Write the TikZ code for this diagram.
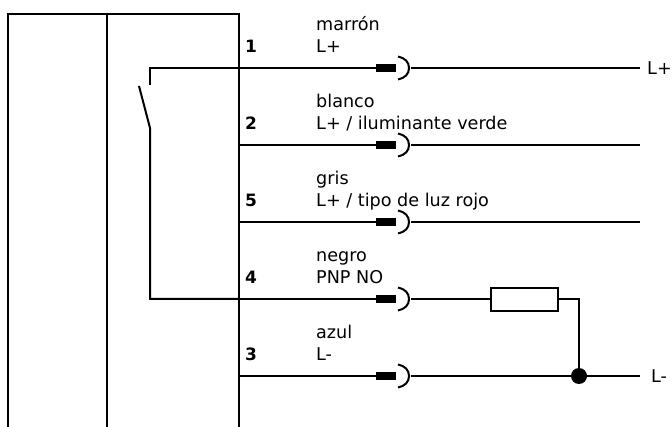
\documentclass[tikz,border=0pt]{standalone}
\usepackage{fontspec}
\setmainfont{DejaVu Sans}
\tikzset{
  wire/.style = {draw, line width=2pt},
  frame/.style = {draw, line width=2.3pt},
  {plug/.style} = {rectangle, fill=black, inner sep=0, minimum width=20pt, minimum height=8pt},
  {pin label/.style} = {anchor=west, inner sep=0, font=\fontsize{17}{19}\selectfont\bfseries},
  {wire label/.style} = {anchor=base west, inner sep=0, font=\fontsize{17.6}{20}\selectfont},
  {load/.style} = {rectangle, draw, fill=white, line width=2pt, inner sep=0, minimum width=67pt, minimum height=23pt},
  {joint/.style} = {circle, fill=black, inner sep=0, minimum size=16pt},
}
\begin{document}
\begin{tikzpicture}[x=1pt,y=-1pt]
\useasboundingbox (0,0) rectangle (672,427);

% housing
\coordinate (bl) at (8,427);
\coordinate (tl) at (8,14);
\coordinate (tr) at (239,14);
\coordinate (br) at (239,427);
\coordinate (dt) at (107,14);
\coordinate (db) at (107,427);
\draw[frame] (bl) -- (tl) -- (tr) -- (br);
\draw[frame] (dt) -- (db);

% pins
\foreach \pin/\ypos/\col/\fun in {1/68/marrón/{L+},
    2/145/blanco/{L+ / iluminante verde},
    5/222/gris/{L+ / tipo de luz rojo},
    4/299/negro/{PNP NO},
    3/376/azul/{L-}} {
  \node[pin label] (pin\pin) at (245,\ypos-22) {\pin};
  \node[wire label] (col\pin) at (316,\ypos-37.5) {\col};
  \node[wire label] (fun\pin) at (316,\ypos-15.5) {\fun};
  \coordinate (start\pin) at (239,\ypos);
  \node[plug] (plug\pin) at (386,\ypos) {};
  \coordinate (tip\pin) at (398,\ypos-11.5);
  \coordinate (mid\pin) at (409,\ypos);
  \coordinate (toe\pin) at (398,\ypos+11.5);
  \coordinate (sock\pin) at (411,\ypos);
  \draw[wire] (start\pin) -- (plug\pin);
  \draw[wire] (tip\pin) .. controls +(7,1.5) and +(0,-6) .. (mid\pin)
     .. controls +(0,6) and +(7,-1.5) .. (toe\pin);
}

% outgoing lines
\coordinate (end1) at (640,68);
\coordinate (end2) at (640,145);
\coordinate (end5) at (640,222);
\coordinate (end3) at (640,376);
\draw[wire] (sock1) -- (end1);
\draw[wire] (sock2) -- (end2);
\draw[wire] (sock5) -- (end5);
\node[wire label, anchor=west] (lplus) at (647,68) {L+};
\node[wire label, anchor=west] (lminus) at (651,376) {L-};

% load
\node[load] (res) at (524.5,299.5) {};
\node[joint] (dot) at (579,376) {};
\coordinate (bend) at (579,299);
\draw[wire] (sock4) -- (res.west |- bend);
\draw[wire] (res.east |- bend) -- (bend) -- (dot);
\draw[wire] (sock3) -- (dot) -- (end3);

% switch
\coordinate (swtop) at (150,85);
\coordinate (swcorner) at (150,68);
\coordinate (swarm) at (139,86);
\coordinate (swhinge) at (150,128);
\coordinate (swlow) at (150,299);
\draw[wire] (start1) -- (swcorner) -- (swtop);
\draw[wire] (swarm) -- (swhinge) -- (swlow) -- (start4);
\end{tikzpicture}
\end{document}
